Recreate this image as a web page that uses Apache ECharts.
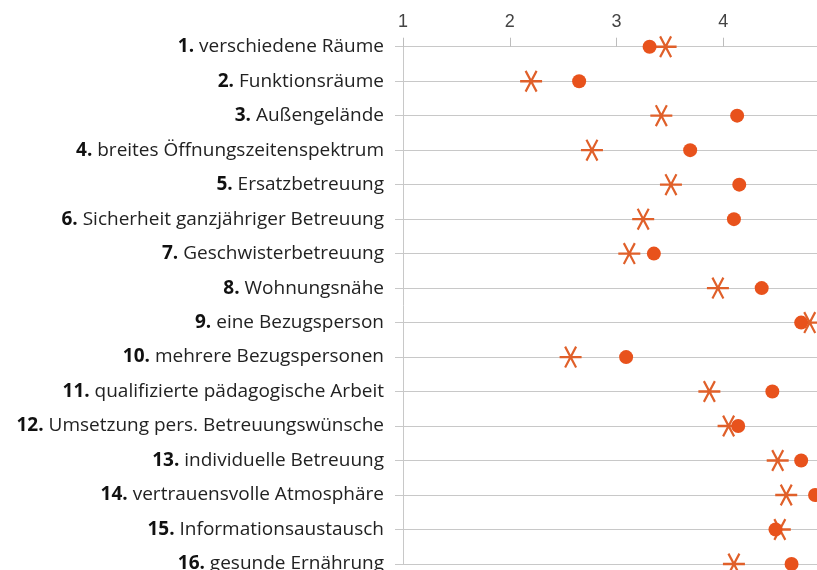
<!DOCTYPE html>
<html>
<head>
<meta charset="utf-8">
<script src="https://cdn.jsdelivr.net/npm/echarts@6/dist/echarts.min.js"></script>
<style>
  html, body { margin: 0; padding: 0; background: #fff; }
  #chart { width: 817px; height: 570px; }
</style>
</head>
<body>
<div id="chart"></div>
<script>
// Kriterien (Reihenfolge von oben nach unten)
var kriterien = [
  "verschiedene Räume",
  "Funktionsräume",
  "Außengelände",
  "breites Öffnungszeitenspektrum",
  "Ersatzbetreuung",
  "Sicherheit ganzjähriger Betreuung",
  "Geschwisterbetreuung",
  "Wohnungsnähe",
  "eine Bezugsperson",
  "mehrere Bezugspersonen",
  "qualifizierte pädagogische Arbeit",
  "Umsetzung pers. Betreuungswünsche",
  "individuelle Betreuung",
  "vertrauensvolle Atmosphäre",
  "Informationsaustausch",
  "gesunde Ernährung"
];
// Kreis-Markierung
var werteKreis = [3.31, 2.65, 4.13, 3.69, 4.15, 4.10, 3.35, 4.36, 4.73, 3.09, 4.46, 4.14, 4.73, 4.86, 4.49, 4.64];
// Stern-Markierung
var werteStern = [3.46, 2.20, 3.42, 2.77, 3.51, 3.25, 3.12, 3.95, 4.81, 2.57, 3.87, 4.05, 4.51, 4.59, 4.53, 4.10];
var xTicks = [1, 2, 3, 4, 5];

var sternPfad = "path://M0 9 L20 9 L20 11 L0 11 Z " +
  "M4.134 1.84 L5.866 0.84 L15.866 18.16 L14.134 19.16 Z " +
  "M15.866 1.84 L5.866 19.16 L4.134 18.16 L14.134 0.84 Z";

var chart = echarts.init(document.getElementById("chart"));
chart.setOption({
  animation: false,
  grid: {
    left: 403,
    width: 427, // Achse läuft rechts über den Rand hinaus (5 liegt bei x=830)
    top: 46.7,
    bottom: 6,
    containLabel: false,
    outerBoundsMode: "none"
  },
  xAxis: {
    type: "value",
    position: "top",
    min: xTicks[0],
    max: xTicks[xTicks.length - 1],
    interval: 1,
    axisLine: { show: true, lineStyle: { color: "#c8c8c8" } },
    axisTick: { show: true, length: 9, lineStyle: { color: "#bdbdbd" } },
    axisLabel: {
      margin: 16,
      fontFamily: "Liberation Sans",
      fontSize: 18,
      color: "#444"
    },
    splitLine: { show: false }
  },
  yAxis: {
    type: "category",
    inverse: true,
    boundaryGap: false,
    data: kriterien,
    axisLine: { show: true, lineStyle: { color: "#c8c8c8" } },
    axisTick: { show: true, length: 8, interval: 0, lineStyle: { color: "#c8c8c8" } },
    axisLabel: {
      interval: 0,
      margin: 19,
      fontFamily: "Open Sans",
      fontSize: 19,
      color: "#222",
      formatter: function (val, idx) {
        return "{b|" + (idx + 1) + ".} " + val;
      },
      rich: {
        b: { fontFamily: "Open Sans", fontWeight: "bold", fontSize: 19, color: "#111" }
      }
    },
    splitLine: { show: true, interval: 0, lineStyle: { color: "#c8c8c8", width: 1 } }
  },
  series: [
    {
      name: "Stern",
      type: "scatter",
      symbol: sternPfad,
      symbolSize: 22,
      itemStyle: { color: "#e0602a", opacity: 1 },
      data: werteStern.map(function (v, i) { return [v, kriterien[i]]; })
    },
    {
      name: "Kreis",
      type: "scatter",
      symbol: "circle",
      symbolSize: 14,
      itemStyle: { color: "#e8521c", opacity: 1 },
      data: werteKreis.map(function (v, i) { return [v, kriterien[i]]; })
    }
  ]
});
</script>
</body>
</html>
